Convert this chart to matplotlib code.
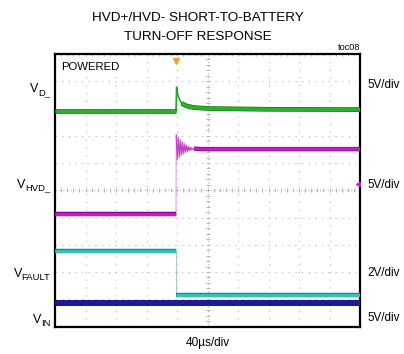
import matplotlib
matplotlib.use("Agg")
import matplotlib.pyplot as plt
import matplotlib.patheffects as pe
import numpy as np

plt.rcParams['font.family'] = ['Liberation Sans', 'DejaVu Sans']

# ---------------- data (time in us, level in screen divisions) ----------------
title_lines = ["HVD+/HVD- SHORT-TO-BATTERY", "TURN-OFF RESPONSE"]
x_label = "40\u00b5s/div"
tag = "toc08"
mode_label = "POWERED"
channel_main = ["V", "V", "V", "V"]
channel_subs = ["D_", "HVD_", "FAULT", "IN"]
channel_scales = ["5V/div", "5V/div", "2V/div", "5V/div"]

trigger_t = 158.7

vd_t = [0, 158.7, 159.5, 161.0, 163.0, 166.0, 172.0, 181.0, 200.0, 280.0, 400.0]
vd_v = [7.91, 7.91, 8.78, 8.50, 8.35, 8.19, 8.10, 8.04, 8.00, 7.97, 7.96]

vhvd_t = [0, 158.7, 159.0, 160.3, 161.6, 162.9, 164.2, 165.5, 166.8, 168.1, 169.4,
          170.7, 172.0, 173.3, 174.6, 175.9, 177.2, 178.5, 179.8, 181.1, 182.4, 190.0, 400.0]
vhvd_v = [4.13, 4.13, 7.03, 6.11, 6.95, 6.20, 6.85, 6.28, 6.78, 6.33, 6.72,
          6.38, 6.66, 6.42, 6.62, 6.45, 6.59, 6.47, 6.56, 6.49, 6.53, 6.51, 6.51]
vhvd_ground = 5.23

fault_t = [0, 158.7, 158.7, 400]
fault_v = [2.77, 2.77, 1.17, 1.17]

vin_t = [0, 400]
vin_v = [0.86, 0.86]

# ---------------- figure ----------------
W, H = 404, 354
fig = plt.figure(figsize=(W / 100, H / 100), dpi=100)
fig.patch.set_facecolor("white")
L, R, T, B = 55, 360, 54, 326.5
ax = fig.add_axes([L / W, 1 - B / H, (R - L) / W, (B - T) / H])
ax.set_xlim(0, 400)
ax.set_ylim(0, 10)
ax.set_xticks([])
ax.set_yticks([])
for s in ax.spines.values():
    s.set_linewidth(1.6)
    s.set_color("black")

# graticule
gcol = "#b5b5b5"
for i in range(1, 10):
    if i == 5:
        continue
    ax.axvline(i * 40, color=gcol, lw=0.8, dashes=(1, 6), zorder=1)
    ax.axhline(i, color=gcol, lw=0.8, dashes=(1, 5), zorder=1)
ax.axvline(200, color=gcol, lw=0.8, dashes=(1, 2.5), zorder=1)
ax.axhline(5, color=gcol, lw=0.8, dashes=(1, 2.5), zorder=1)
minor_x = np.arange(0, 400.1, 8)
minor_y = np.arange(0, 10.01, 0.2)
ax.plot(minor_x, np.full_like(minor_x, 5.0), ls="none", marker="|", ms=3, mew=0.7, color=gcol, zorder=1)
ax.plot(np.full_like(minor_y, 200.0), minor_y, ls="none", marker="_", ms=3, mew=0.7, color=gcol, zorder=1)
ax.plot(minor_x, np.full_like(minor_x, 0.0), ls="none", marker="|", ms=3, mew=0.7, color=gcol, zorder=1)
ax.plot(minor_x, np.full_like(minor_x, 10.0), ls="none", marker="|", ms=3, mew=0.7, color=gcol, zorder=1)

def band(x, y, face, edge, lw=3.0, z=3):
    ln, = ax.plot(x, y, color=face, lw=lw, solid_capstyle="butt", zorder=z)
    ln.set_path_effects([pe.Stroke(linewidth=lw + 1.0, foreground=edge), pe.Normal()])

# VIN (blue)
band(vin_t, vin_v, "#1a1aa0", "#0a0a70", lw=3.2, z=3)

# VFAULT (cyan)
ax.plot(fault_t, fault_v, color="#a8cccc", lw=0.8, zorder=2)
band(fault_t[:2], fault_v[:2], "#30c0c0", "#108c8c", lw=2.2, z=3)
band(fault_t[2:], fault_v[2:], "#30c0c0", "#108c8c", lw=2.2, z=3)

# VHVD (magenta)
ax.plot(vhvd_t[1:3], vhvd_v[1:3], color="#e0a0e0", lw=0.8, zorder=2)
ax.plot(vhvd_t[2:], vhvd_v[2:], color="#c040c0", lw=0.8, zorder=3)
band(vhvd_t[:2], vhvd_v[:2], "#c020c0", "#8a008a", lw=2.2, z=3)
band(vhvd_t[-3:], vhvd_v[-3:], "#c020c0", "#8a008a", lw=2.2, z=3)
ax.plot([397], [vhvd_ground], marker="<", ms=3, color="#c020c0", ls="none", zorder=4)

# VD (green)
ax.plot(vd_t[1:6], vd_v[1:6], color="#22a822", lw=1.2, zorder=3)
band(vd_t[:2], vd_v[:2], "#28b428", "#0f7a0f", lw=2.4, z=3)
band(vd_t[5:], vd_v[5:], "#28b428", "#0f7a0f", lw=2.4, z=3)

# trigger marker
ax.plot([trigger_t], [9.75], marker="v", ms=4, color="#f0a030", ls="none", zorder=5, clip_on=False)

# ---------------- texts ----------------
def px(x, y):
    return x / W, 1 - y / H

fig.text(*px(197.5, 21.3), title_lines[0], ha="center", va="baseline", fontsize=9.7)
fig.text(*px(197.5, 39.8), title_lines[1], ha="center", va="baseline", fontsize=9.7)
fig.text(*px(360, 50.5), tag, ha="right", va="baseline", fontsize=6.6)
fig.text(*px(61.5, 70.3), mode_label, ha="left", va="baseline", fontsize=8.2)
fig.text(*px(207.5, 346.3), x_label, ha="center", va="baseline", fontsize=8.5)

renderer = fig.canvas.get_renderer()
name_base = [92.0, 187.5, 277.0, 323.0]
scale_base = [87.9, 187.7, 276.2, 320.7]
for main, sub, yb in zip(channel_main, channel_subs, name_base):
    st = fig.text(*px(50.5, yb + 3.0), sub, ha="right", va="baseline", fontsize=6.8)
    bb = st.get_window_extent(renderer=renderer)
    fig.text(bb.x0 / W + 0.3 / W, 1 - yb / H, main, ha="right", va="baseline", fontsize=9)
for sc, yb in zip(channel_scales, scale_base):
    fig.text(*px(400, yb), sc, ha="right", va="baseline", fontsize=8.4)

fig.savefig("out.png", dpi=100, facecolor="white")
